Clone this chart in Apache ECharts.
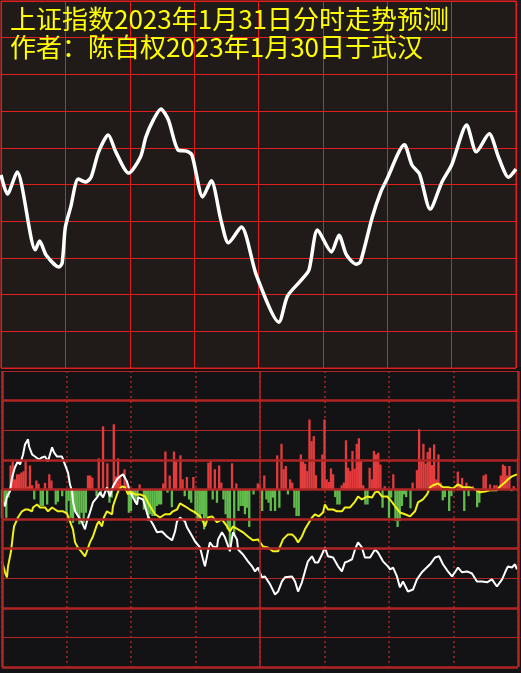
<!DOCTYPE html>
<html>
<head>
<meta charset="utf-8">
<script src="https://cdn.jsdelivr.net/npm/echarts@6/dist/echarts.min.js"></script>
<style>
html,body{margin:0;padding:0;background:#131316;}
#chart{width:521px;height:673px;}
</style>
</head>
<body>
<div id="chart"></div>
<script>
// ---- titles ----
const titleLines = ['上证指数2023年1月31日分时走势预测', '作者：陈自权2023年1月30日于武汉'];

// ---- top panel: predicted index path [minute, grid units] ----
const priceMinutes = [0,3,7.5,16,18,21,27,28.5,30,32.5,36,39.5,42,45.5,50,53.5,59.5,65,67.5,71,74.5,78,82.5,86.5,89,94,98,102.5,106,112,119,129.5,133.5,140,143.5,147.5,154,157.5,161,165.5,167.5,173,177,179.5,188,191.5,195,200,205.5,210,217,221.5,227.5,232,236.5,240];
const priceValues = [5.26,4.74,5.34,3.22,3.46,3.08,2.75,2.86,3.84,4.39,5.15,5.07,5.20,5.89,6.35,5.89,5.31,5.75,6.29,6.76,7.06,6.76,5.94,5.91,5.80,4.66,5.10,4.03,3.41,3.84,2.53,1.25,1.96,2.40,2.67,3.76,3.16,3.62,3.08,2.83,2.89,4.11,4.80,5.10,6.08,5.53,5.29,4.33,5.07,5.53,6.62,5.89,6.38,5.72,5.20,5.42];

// ---- bottom panel: white line [minute, value] ----
const whiteLine = [[0,-0.34],[1.4,-0.57],[2.3,-0.24],[3.7,-0.07],[4.7,0.41],[6,0.74],[7.4,0.95],[8.4,0.84],[9.8,1.18],[10.7,1.52],[12.1,1.69],[12.6,1.45],[14,1.18],[15.3,1.11],[17.2,1.01],[18.6,1.08],[20,1.11],[21.4,0.95],[22.3,1.18],[23.3,1.42],[24.2,1.25],[25.6,1.11],[27.9,1.11],[29.3,0.84],[30.7,0.57],[31.6,0.17],[32.6,-0.07],[33,-0.41],[34,-0.74],[37.2,-1.11],[38.6,-1.35],[39.5,-1.08],[40.9,-0.78],[42.3,-0.44],[44.2,-0.27],[45.6,-0.1],[47,-0.27],[48.8,0.07],[50.2,-0.24],[51.6,0.1],[53.5,0.34],[54.9,0.44],[56.3,0.51],[58.1,0.27],[59.5,-0.07],[60.9,-0.27],[62.8,-0.51],[63.3,-0.27],[65.6,-0.34],[67.9,-0.91],[70.2,-1.18],[72.1,-1.45],[74.4,-1.42],[76.7,-1.59],[79.1,-1.72],[80.5,-1.42],[81.4,-1.08],[82.8,-0.95],[85.1,-1.08],[86,-1.28],[87.4,-1.45],[89.8,-1.76],[92.1,-1.96],[93.5,-2.36],[94.4,-2.6],[95.8,-2.09],[96.7,-1.79],[98.1,-1.93],[100,-1.96],[100.5,-1.69],[102.3,-1.45],[103.7,-1.62],[106,-2.09],[107.4,-1.45],[109.3,-1.69],[109.8,-2.03],[112.1,-2.2],[114.4,-2.43],[116.3,-2.6],[117.7,-2.77],[119.1,-2.64],[120.9,-2.97],[122.3,-2.94],[124.7,-3.21],[127,-3.55],[128.4,-3.45],[130.2,-3.11],[131.6,-2.97],[134.9,-2.94],[136.3,-3.11],[137.7,-3.45],[139.5,-3.14],[140.9,-2.77],[142.3,-2.43],[144.2,-2.26],[145.6,-2.47],[147,-2.47],[148.8,-2.2],[150.2,-1.96],[151.6,-2.26],[154,-2.3],[156.3,-2.6],[158.1,-2.77],[159.5,-2.47],[160.9,-2.43],[162.8,-2.36],[164.2,-2.03],[165.6,-1.79],[167.4,-1.96],[168.8,-2.3],[171.2,-2.3],[173.5,-2.03],[174.9,-2.13],[177.2,-2.43],[179.5,-2.6],[180.5,-2.7],[181.9,-2.64],[183.7,-2.94],[185.1,-3.31],[186.5,-3.11],[188.8,-3.45],[191.2,-3.38],[193,-3.04],[195.3,-2.8],[196.7,-2.7],[199.1,-2.53],[201.4,-2.3],[203.3,-2.26],[205.1,-2.53],[207.4,-2.77],[209.3,-2.94],[210.7,-2.8],[212.1,-2.64],[214,-2.8],[216.3,-2.77],[218.6,-2.84],[220.9,-3.11],[223.3,-3.11],[225.6,-3.14],[227.9,-3.04],[230.2,-3.28],[232.6,-3.04],[234,-2.8],[235.3,-2.6],[237.2,-2.64],[238.6,-2.53],[239.5,-2.7]];

// ---- bottom panel: yellow line [minute, value] ----
const yellowLine = [[0,-2.43],[1.4,-2.8],[2.3,-2.97],[2.8,-2.6],[4.2,-2.09],[5.1,-1.52],[5.6,-1.25],[7.4,-0.95],[9.3,-0.74],[10.7,-0.68],[12.1,-0.68],[14,-0.74],[14.4,-0.61],[16.3,-0.51],[17.7,-0.61],[20,-0.61],[21.4,-0.74],[23.3,-0.61],[24.7,-0.68],[26,-0.74],[28.4,-0.74],[30.2,-0.81],[31.6,-1.08],[33,-1.35],[34,-1.79],[35.3,-1.96],[37.2,-2.13],[38.6,-2.26],[39.5,-2.09],[40.9,-1.79],[42.3,-1.59],[44.2,-1.18],[45.1,-1.08],[46.5,-1.25],[47.4,-0.95],[48.8,-0.74],[51.2,-0.84],[51.6,-0.57],[53.5,-0.17],[54.4,0],[55.8,0.1],[57.2,0.07],[58.6,-0.17],[59.5,-0.07],[61.9,-0.17],[64.2,-0.17],[66.5,-0.24],[67.9,-0.44],[69.8,-0.68],[71.2,-0.84],[73.5,-0.95],[75.8,-0.84],[78.1,-0.84],[79.5,-0.74],[81.4,-0.68],[82.8,-0.47],[85.1,-0.57],[87.4,-0.68],[89.8,-0.78],[92.1,-0.91],[93.5,-1.08],[94.4,-1.25],[95.8,-0.95],[97.7,-0.91],[100,-1.11],[102.3,-1.01],[104.7,-1.25],[106,-1.42],[107.4,-1.25],[109.8,-1.35],[112.1,-1.45],[114.4,-1.59],[116.7,-1.72],[119.1,-1.69],[121.4,-1.93],[123.7,-1.96],[126,-2.09],[128.4,-2.09],[129.3,-1.93],[130.7,-1.69],[133,-1.52],[134.9,-1.52],[136.3,-1.62],[137.7,-1.79],[139.5,-1.59],[140.9,-1.35],[142.3,-1.18],[144.2,-0.95],[145.6,-0.84],[147.4,-0.91],[149.3,-0.78],[150.2,-0.51],[151.6,-0.68],[154,-0.68],[155.8,-0.74],[158.1,-0.74],[159.5,-0.61],[161.9,-0.61],[164.2,-0.41],[165.6,-0.24],[167.4,-0.34],[169.8,-0.24],[172.1,-0.27],[173.5,-0.1],[174.9,-0.07],[176.7,-0.24],[179.1,-0.24],[180.5,-0.34],[182.8,-0.57],[185.1,-0.78],[187.4,-0.84],[189.8,-0.91],[192.1,-0.74],[193.5,-0.44],[195.8,-0.34],[197.7,-0.17],[199.1,0.07],[200.5,0.14],[202.8,0.2],[205.1,0.07],[207.4,0.07],[209.8,0.03],[212.1,0.17],[214.4,0.07],[217.7,0.07],[220,0],[222.3,-0.1],[224.7,-0.07],[227,-0.03],[230.2,-0.03],[231.6,0.1],[234,0.24],[235.3,0.34],[237.2,0.44],[239.5,0.51]];

// ---- bottom panel bars [minute, value] ----
const upBars = [[4,0.81],[5,0.95],[6,0.34],[7,0.51],[8,0.51],[9,0.57],[10,0.61],[11,0.95],[12,0.1],[13,0.81],[14,0.14],[16,0.3],[17,0.19],[20,0.22],[22,0.51],[23,0.3],[40,0.47],[41,0.47],[42,0.4],[45,1.05],[47,2.13],[49,0.88],[52,2.2],[53,0.44],[54,1.05],[55,0.41],[57,0.68],[58,0.3],[64,0.17],[75,0.2],[76,1.28],[78,0.47],[80,1.28],[81,0.95],[83,1.15],[84,0.34],[86,0.42],[89,0.42],[96,0.9],[97,0.96],[99,0.68],[101,0.81],[102,0.23],[107,0.88],[109,0.2],[119,0.2],[120,0.18],[122,0.47],[128,1.15],[130,1.54],[131,0.68],[132,0.79],[134,0.34],[135,0.23],[139,1.18],[140,0.95],[141,0.87],[142,0.62],[143,2.36],[144,1.63],[145,1.8],[146,0.48],[149,1.18],[150,2.36],[151,0.34],[152,0.25],[153,0.71],[154,0.51],[158,0.14],[159,0.23],[160,1.66],[161,0.73],[162,0.62],[163,1.3],[164,0.7],[165,1.54],[166,1.73],[167,0.96],[168,0.14],[171,0.73],[172,0.34],[173,1.3],[174,1.18],[175,1.24],[176,0.84],[178,0.11],[182,0.51],[191,0.23],[193,0.65],[194,2.03],[195,1.01],[196,1.54],[197,0.87],[198,1.26],[199,1.41],[200,0.82],[201,1.52],[202,0.34],[203,1.18],[204,0.23],[212,0.6],[213,0.17],[214,0.39],[216,0.23],[219,0.11],[224,0.47],[225,0.51],[227,0.17],[229,0.14],[230,0.14],[232,0.47],[233,0.84],[234,0.79],[235,0.47],[236,0.79],[238,0.11],[240,1.07]];
const downBars = [[0,-0.96],[1,-0.45],[2,-0.96],[3,-0.28],[15,-0.34],[18,-0.56],[19,-0.56],[21,-0.51],[25,-0.51],[26,-0.42],[28,-0.23],[30,-0.84],[31,-0.39],[32,-0.96],[33,-1.13],[34,-0.73],[35,-0.84],[36,-1.18],[37,-0.79],[38,-1.13],[39,-0.79],[44,-0.23],[46,-0.23],[50,-0.45],[51,-0.28],[59,-0.79],[60,-0.73],[61,-0.28],[62,-0.45],[63,-0.34],[66,-0.68],[67,-0.68],[68,-1.07],[69,-0.84],[70,-0.9],[71,-0.9],[72,-0.56],[73,-0.51],[74,-0.51],[77,-0.11],[79,-0.6],[85,-0.23],[87,-0.34],[88,-0.45],[90,-0.84],[91,-1.07],[92,-1.07],[93,-0.84],[94,-1.35],[95,-0.96],[98,-0.34],[100,-0.45],[103,-0.34],[104,-0.84],[105,-1.35],[106,-1.91],[108,-1.52],[110,-0.73],[111,-0.56],[112,-0.56],[113,-0.84],[114,-0.62],[115,-1.27],[117,-0.17],[121,-0.73],[123,-0.34],[124,-0.45],[125,-0.73],[126,-0.28],[127,-0.73],[129,-0.62],[133,-0.17],[136,-0.62],[137,-0.9],[138,-0.9],[155,-0.26],[156,-0.51],[157,-0.51],[169,-0.51],[170,-0.51],[177,-0.62],[180,-0.96],[181,-0.28],[183,-1.07],[184,-1.27],[185,-1.07],[186,-0.56],[187,-0.17],[188,-0.26],[190,-0.64],[205,-0.37],[206,-0.26],[208,-0.73],[209,-0.23],[215,-0.73],[217,-0.23],[221,-0.6],[222,-0.45],[237,-0.06]];

// ---- axis layout ----
const minuteTicks = 30;          // 30-minute grid
const bottomThickLevels = [3, 1, 0, -1, -2, -4, -6];

const TOP_BG = '#201a18', BOT_BG = '#131316';
const TOP_RED = '#e21f1f', BOT_RED = '#b02424';

const chart = echarts.init(document.getElementById('chart'), null, {renderer: 'canvas'});
const priceData = priceMinutes.map((m, i) => [m, priceValues[i]]);

const option = {
  animation: false,
  backgroundColor: {
    type: 'linear', x: 0, y: 0, x2: 0, y2: 1,
    colorStops: [
      {offset: 0, color: TOP_BG}, {offset: 367.5 / 673, color: TOP_BG},
      {offset: 367.5 / 673, color: BOT_BG}, {offset: 1, color: BOT_BG}
    ]
  },
  grid: [
    {left: 1, top: 1, width: 515, height: 367, show: true, borderColor: TOP_RED, borderWidth: 1, backgroundColor: 'transparent'},
    {left: 2, top: 371, width: 516, height: 296, show: false}
  ],
  xAxis: [
    {gridIndex: 0, type: 'value', min: 0, max: 240, interval: minuteTicks,
     axisLine: {show: false}, axisTick: {show: false}, axisLabel: {show: false},
     splitLine: {show: true, lineStyle: {color: TOP_RED, width: 1}}},
    {gridIndex: 1, type: 'value', min: 0, max: 240, interval: minuteTicks,
     axisLine: {show: false}, axisTick: {show: false}, axisLabel: {show: false},
     splitLine: {show: true, lineStyle: {color: BOT_RED, width: 1.5, type: [2, 3]}}}
  ],
  yAxis: [
    {gridIndex: 0, type: 'value', min: 0, max: 10, interval: 1,
     axisLine: {show: false}, axisTick: {show: false}, axisLabel: {show: false},
     splitLine: {show: true, lineStyle: {color: TOP_RED, width: 1}}},
    {gridIndex: 1, type: 'value', min: -6, max: 4, interval: 1,
     axisLine: {show: false}, axisTick: {show: false}, axisLabel: {show: false},
     splitLine: {show: true, lineStyle: {color: BOT_RED, width: 1}}}
  ],
  series: [
    {
      type: 'line', xAxisIndex: 0, yAxisIndex: 0, data: priceData,
      smooth: 0.25, showSymbol: false, symbol: 'none',
      lineStyle: {color: '#ffffff', width: 3.5}, z: 5
    },
    {
      type: 'bar', xAxisIndex: 1, yAxisIndex: 1, data: upBars,
      barWidth: 2.3, barGap: '-100%', itemStyle: {color: '#e43c3c'}, z: 2
    },
    {
      type: 'bar', xAxisIndex: 1, yAxisIndex: 1, data: downBars,
      barWidth: 2.3, barGap: '-100%', itemStyle: {color: '#62bc4c'}, z: 2,
      markLine: {
        silent: true, symbol: ['none', 'none'], label: {show: false},
        data: bottomThickLevels.map(v => ({yAxis: v, lineStyle: {color: BOT_RED, width: 2.5, type: 'solid'}}))
          .concat([
            {xAxis: 0, lineStyle: {color: BOT_RED, width: 2.5, type: 'solid'}},
            {xAxis: 120, lineStyle: {color: BOT_RED, width: 1.5, type: 'solid'}},
            {xAxis: 240, lineStyle: {color: BOT_RED, width: 2.5, type: 'solid'}}
          ])
      }
    },
    {
      type: 'line', xAxisIndex: 1, yAxisIndex: 1, data: whiteLine,
      showSymbol: false, symbol: 'none', lineStyle: {color: '#ffffff', width: 2}, z: 4
    },
    {
      type: 'line', xAxisIndex: 1, yAxisIndex: 1, data: yellowLine,
      showSymbol: false, symbol: 'none', lineStyle: {color: '#f2f218', width: 2}, z: 4
    }
  ],
  graphic: [
    {type: 'text', left: 10, top: 6, z: 100,
     style: {text: titleLines[0], fill: '#ffff00', font: '26px "Noto Sans CJK SC"'}},
    {type: 'text', left: 10, top: 34, z: 100,
     style: {text: titleLines[1], fill: '#ffff00', font: '26px "Noto Sans CJK SC"'}}
  ]
};
chart.setOption(option);
</script>
</body>
</html>
